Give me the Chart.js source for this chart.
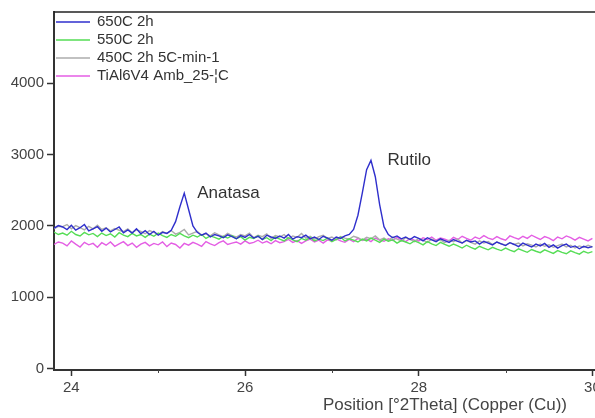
<!DOCTYPE html>
<html>
<head>
<meta charset="utf-8">
<script src="https://cdn.jsdelivr.net/npm/chart.js@4.4.0/dist/chart.umd.min.js"></script>
<style>
  html, body { margin:0; padding:0; background:#fff; overflow:hidden; }
  #wrap { width:595px; height:418px; }
</style>
</head>
<body>
<div id="wrap"><canvas id="xrd" width="595" height="418"></canvas></div>
<script>
// 2theta positions (deg)
const twoTheta = [
  23.80, 23.85,
  23.90, 23.95, 24.00, 24.05, 24.10, 24.15, 24.20, 24.25, 24.30, 24.35,
  24.40, 24.45, 24.50, 24.55, 24.60, 24.65, 24.70, 24.75, 24.80, 24.85,
  24.90, 24.95, 25.00, 25.05, 25.10, 25.15, 25.20, 25.25, 25.30, 25.35,
  25.40, 25.45, 25.50, 25.55, 25.60, 25.65, 25.70, 25.75, 25.80, 25.85,
  25.90, 25.95, 26.00, 26.05, 26.10, 26.15, 26.20, 26.25, 26.30, 26.35,
  26.40, 26.45, 26.50, 26.55, 26.60, 26.65, 26.70, 26.75, 26.80, 26.85,
  26.90, 26.95, 27.00, 27.05, 27.10, 27.15, 27.20, 27.25, 27.30, 27.35,
  27.40, 27.45, 27.50, 27.55, 27.60, 27.65, 27.70, 27.75, 27.80, 27.85,
  27.90, 27.95, 28.00, 28.05, 28.10, 28.15, 28.20, 28.25, 28.30, 28.35,
  28.40, 28.45, 28.50, 28.55, 28.60, 28.65, 28.70, 28.75, 28.80, 28.85,
  28.90, 28.95, 29.00, 29.05, 29.10, 29.15, 29.20, 29.25, 29.30, 29.35,
  29.40, 29.45, 29.50, 29.55, 29.60, 29.65, 29.70, 29.75, 29.80, 29.85,
  29.90, 29.95, 30.00
];

const seriesNames = ['650C 2h', '550C 2h', '450C 2h 5C-min-1', 'TiAl6V4 Amb_25-¦C'];

const counts650 = [
  1970, 2005,
  1985, 1950, 2010, 1940, 1975, 2020, 1930, 1960, 1990, 1925,
  1970, 1915, 1950, 1985, 1905, 1945, 1900, 1960, 1890, 1935,
  1880, 1925, 1870, 1910, 1895, 1940, 2060, 2270, 2460, 2230,
  2000, 1910, 1870, 1900, 1845, 1880, 1860, 1835, 1875, 1850,
  1820, 1865, 1840, 1880, 1830, 1855, 1810, 1870, 1845, 1825,
  1860, 1830, 1880, 1815, 1850, 1835, 1870, 1820, 1845, 1810,
  1855, 1830, 1800, 1845, 1825, 1860, 1880, 1950, 2150, 2460,
  2790, 2920, 2690, 2300, 1990, 1880, 1835, 1860, 1820, 1845,
  1810, 1850, 1825, 1790, 1835, 1805, 1780, 1820, 1795, 1770,
  1810, 1785, 1760, 1800, 1775, 1790, 1745, 1785, 1760, 1735,
  1775, 1750, 1725, 1765, 1740, 1710, 1760, 1730, 1705, 1745,
  1720, 1755, 1700, 1735, 1690, 1725, 1745, 1700, 1720, 1680,
  1715, 1695, 1710
];

const counts550 = [
  1915, 1880,
  1900, 1870, 1925, 1880, 1860, 1910, 1875, 1895, 1850, 1900,
  1865, 1890, 1845, 1905, 1870, 1850, 1895, 1860, 1880, 1840,
  1885, 1855, 1900, 1865, 1840, 1880, 1855, 1895, 1860, 1835,
  1870, 1845, 1880, 1825, 1860, 1840, 1815, 1855, 1830, 1865,
  1820, 1850, 1800, 1840, 1825, 1860, 1810, 1835, 1795, 1845,
  1815, 1790, 1835, 1805, 1780, 1825, 1800, 1840, 1790, 1815,
  1795, 1830, 1780, 1810, 1845, 1790, 1820, 1800, 1775, 1815,
  1790, 1830, 1800, 1770, 1815, 1785, 1805, 1760, 1795, 1775,
  1750, 1790, 1765, 1735, 1780, 1750, 1725, 1770, 1740, 1715,
  1745, 1720, 1690, 1730, 1700, 1675, 1715, 1690, 1665, 1700,
  1675, 1655, 1690, 1660, 1640, 1680, 1655, 1630, 1670, 1645,
  1625, 1665, 1640, 1615, 1655, 1630, 1610, 1650, 1625, 1605,
  1645, 1620, 1640
];

const counts450 = [
  1960, 1995,
  1990, 2020, 1960, 2005, 1975, 1945, 1995, 1960, 2010, 1950,
  1975, 1930, 1965, 1940, 1920, 1960, 1905, 1945, 1925, 1890,
  1935, 1910, 1880, 1920, 1895, 1935, 1885, 1910, 1950, 1875,
  1900, 1925, 1870, 1890, 1860, 1905, 1875, 1850, 1895, 1865,
  1845, 1880, 1860, 1900, 1835, 1870, 1850, 1890, 1825, 1865,
  1845, 1880, 1820, 1860, 1840, 1895, 1830, 1855, 1815, 1850,
  1870, 1825, 1845, 1805, 1850, 1830, 1815, 1855, 1835, 1800,
  1840, 1820, 1860, 1805, 1830, 1795, 1845, 1815, 1790, 1835,
  1810, 1780, 1825, 1800, 1770, 1815, 1790, 1805, 1765, 1800,
  1780, 1815, 1760, 1795, 1770, 1745, 1790, 1760, 1780, 1740,
  1775, 1750, 1730, 1765, 1740, 1760, 1720, 1750, 1730, 1705,
  1745, 1715, 1735, 1700, 1725, 1745, 1705, 1730, 1690, 1720,
  1700, 1730, 1705
];

const countsAmb = [
  1740, 1775,
  1760, 1720, 1790, 1745, 1705, 1770, 1735, 1755, 1700, 1765,
  1730, 1775, 1715, 1750, 1780, 1725, 1760, 1700, 1745, 1770,
  1720, 1755, 1735, 1775, 1710, 1760, 1740, 1690, 1755, 1730,
  1770, 1745, 1715, 1780, 1750, 1725, 1765, 1790, 1740, 1760,
  1775, 1745, 1790, 1755, 1770, 1800, 1760, 1785, 1750, 1795,
  1765, 1780, 1810, 1770, 1795, 1755, 1790, 1815, 1775, 1800,
  1760, 1805, 1785, 1820, 1790, 1770, 1810, 1780, 1825, 1795,
  1815, 1780, 1830, 1800, 1785, 1820, 1795, 1840, 1805, 1780,
  1825, 1800, 1790, 1835, 1810, 1845, 1800, 1830, 1815, 1790,
  1840, 1810, 1855, 1825, 1800, 1845, 1820, 1865, 1830, 1810,
  1850, 1820, 1800, 1860, 1835, 1815, 1855, 1825, 1870, 1840,
  1810, 1850, 1830, 1795, 1845, 1820, 1860, 1835, 1800, 1840,
  1815, 1790, 1825
];

const xTicks = [24, 26, 28, 30];
const xMinorTicks = [25, 27, 29];
const yTicks = [0, 1000, 2000, 3000, 4000];

const peakNames = ['Anatasa', 'Rutilo'];
const peakAt = [25.45, 27.64];
const peakHeight = [2460, 2920];

const colors = ['#2f2fcc', '#55dd55', '#acacac', '#e45ee4'];
const allCounts = [counts650, counts550, counts450, countsAmb];

const FONT = 'Arial, "Liberation Sans", sans-serif';

const datasets = allCounts.map((vals, i) => ({
  label: seriesNames[i],
  data: vals.map((v, k) => ({ x: twoTheta[k], y: v })),
  borderColor: colors[i],
  borderWidth: 1.4,
  pointRadius: 0,
  tension: 0,
  fill: false
}));

const extras = {
  id: 'extras',
  afterDraw(chart) {
    const { ctx, chartArea: a, scales: { x, y } } = chart;
    ctx.save();
    // top frame line
    ctx.strokeStyle = '#222';
    ctx.lineWidth = 1.5;
    ctx.beginPath();
    ctx.moveTo(a.left, a.top);
    ctx.lineTo(a.right, a.top);
    ctx.stroke();

    // minor x ticks
    ctx.lineWidth = 1;
    ctx.strokeStyle = '#444';
    xMinorTicks.forEach(v => {
      const px = Math.round(x.getPixelForValue(v)) + 0.5;
      ctx.beginPath();
      ctx.moveTo(px, a.bottom);
      ctx.lineTo(px, a.bottom + 3);
      ctx.stroke();
    });

    // legend, inside top-left
    ctx.font = '15px ' + FONT;
    ctx.textBaseline = 'middle';
    ctx.textAlign = 'left';
    seriesNames.forEach((name, i) => {
      const ly = a.top + 10 + i * 18;
      ctx.strokeStyle = colors[i];
      ctx.lineWidth = 1.5;
      ctx.beginPath();
      ctx.moveTo(a.left + 2, ly);
      ctx.lineTo(a.left + 36, ly);
      ctx.stroke();
      ctx.fillStyle = '#333';
      ctx.fillText(name, a.left + 43, ly);
    });

    // peak labels
    ctx.font = '17px ' + FONT;
    ctx.fillStyle = '#333';
    peakNames.forEach((name, i) => {
      ctx.fillText(name, x.getPixelForValue(peakAt[i]), y.getPixelForValue(peakHeight[i]));
    });

    // x axis title
    ctx.font = '17px ' + FONT;
    ctx.textAlign = 'center';
    ctx.fillStyle = '#444';
    ctx.fillText('Position [°2Theta] (Copper (Cu))', 445, 405);
    ctx.restore();
  }
};

new Chart(document.getElementById('xrd'), {
  type: 'line',
  data: { datasets },
  options: {
    responsive: false,
    animation: false,
    devicePixelRatio: 1,
    layout: { padding: { top: 12, left: 0, right: 0, bottom: 0 } },
    plugins: { legend: { display: false }, tooltip: { enabled: false } },
    scales: {
      x: {
        type: 'linear',
        min: 23.8,
        max: 30.03,
        afterBuildTicks: s => { s.ticks = xTicks.map(v => ({ value: v })); },
        afterFit: s => { s.height = 48; s.paddingLeft = 0; s.paddingRight = 0; },
        grid: { drawOnChartArea: false, drawTicks: true, tickLength: 6, tickColor: '#333', tickWidth: 1.5 },
        border: { display: true, color: '#333', width: 2 },
        ticks: { color: '#444', font: { size: 15, family: FONT }, padding: 3, maxRotation: 0, autoSkip: false,
                 callback: v => String(v) }
      },
      y: {
        min: -20,
        max: 5000,
        afterBuildTicks: s => { s.ticks = yTicks.map(v => ({ value: v })); },
        afterFit: s => { s.width = 54; s.paddingTop = 0; s.paddingBottom = 0; },
        grid: { drawOnChartArea: false, drawTicks: true, tickLength: 7, tickColor: '#333', tickWidth: 1.5 },
        border: { display: true, color: '#333', width: 2 },
        ticks: { color: '#444', font: { size: 15, family: FONT }, padding: 3, autoSkip: false,
                 callback: v => String(v) }
      }
    }
  },
  plugins: [extras]
});
</script>
</body>
</html>
